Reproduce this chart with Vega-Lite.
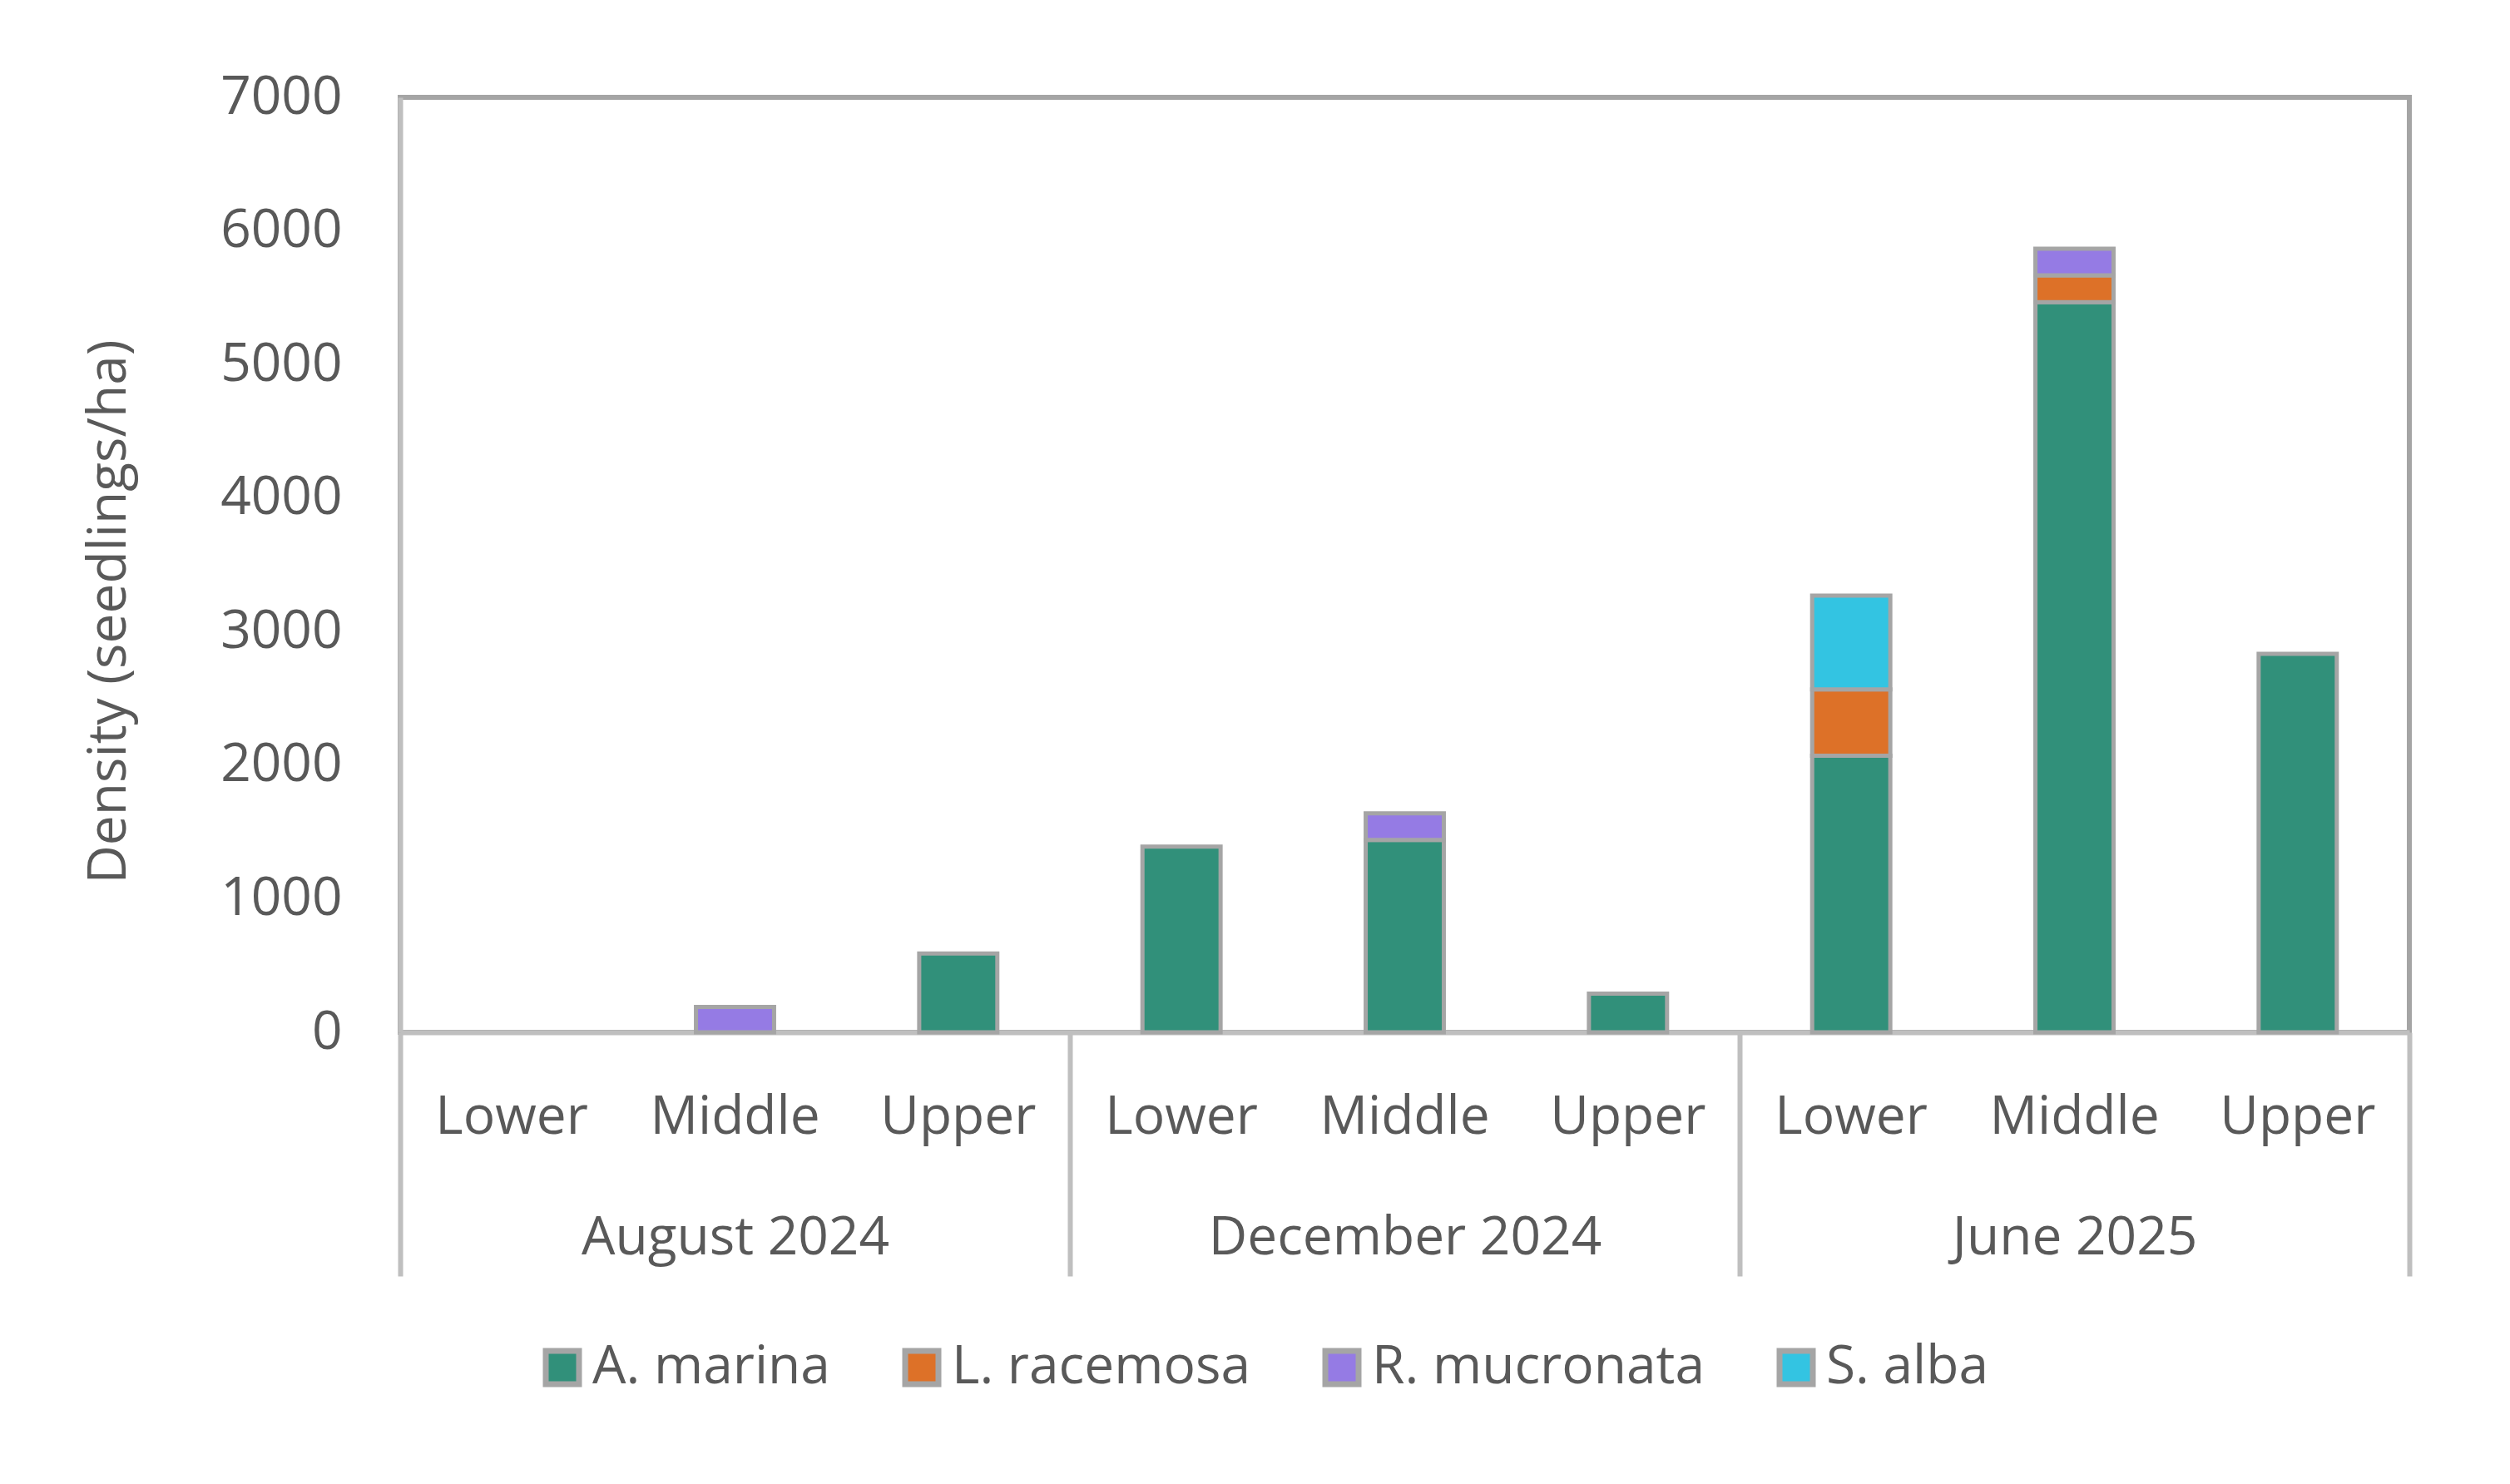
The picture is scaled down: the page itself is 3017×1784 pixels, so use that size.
{
  "$schema": "https://vega.github.io/schema/vega-lite/v6.json",
  "width": 2415,
  "height": 1124,
  "autosize": {"type": "none"},
  "padding": {"left": 481, "top": 117, "right": 121, "bottom": 543},
  "background": "white",
  "config": {
    "font": "Open Sans",
    "view": {"stroke": "#A5A5A5", "strokeWidth": 6},
    "axis": {
      "labelColor": "#595959",
      "titleColor": "#595959",
      "labelFont": "Open Sans",
      "titleFont": "Open Sans",
      "labelFontSize": 64,
      "titleFontSize": 64,
      "titleFontWeight": "normal",
      "labelLimit": 0,
      "grid": false,
      "domainColor": "#BFBFBF",
      "domainWidth": 6,
      "ticks": false
    },
    "legend": {
      "labelColor": "#595959",
      "labelFont": "Open Sans",
      "labelFontSize": 64,
      "labelLimit": 0,
      "padding": 0
    }
  },
  "data": {
    "values": [
      {"period": "August 2024", "zone": "Middle", "cell": "August 2024|Middle", "species": "R. mucronata", "density": 190},
      {"period": "August 2024", "zone": "Upper", "cell": "August 2024|Upper", "species": "A. marina", "density": 590},
      {"period": "December 2024", "zone": "Lower", "cell": "December 2024|Lower", "species": "A. marina", "density": 1390},
      {"period": "December 2024", "zone": "Middle", "cell": "December 2024|Middle", "species": "A. marina", "density": 1440},
      {"period": "December 2024", "zone": "Middle", "cell": "December 2024|Middle", "species": "R. mucronata", "density": 200},
      {"period": "December 2024", "zone": "Upper", "cell": "December 2024|Upper", "species": "A. marina", "density": 290},
      {"period": "June 2025", "zone": "Lower", "cell": "June 2025|Lower", "species": "A. marina", "density": 2070},
      {"period": "June 2025", "zone": "Lower", "cell": "June 2025|Lower", "species": "L. racemosa", "density": 497},
      {"period": "June 2025", "zone": "Lower", "cell": "June 2025|Lower", "species": "S. alba", "density": 703},
      {"period": "June 2025", "zone": "Middle", "cell": "June 2025|Middle", "species": "A. marina", "density": 5467},
      {"period": "June 2025", "zone": "Middle", "cell": "June 2025|Middle", "species": "L. racemosa", "density": 200},
      {"period": "June 2025", "zone": "Middle", "cell": "June 2025|Middle", "species": "R. mucronata", "density": 200},
      {"period": "June 2025", "zone": "Upper", "cell": "June 2025|Upper", "species": "A. marina", "density": 2833}
    ]
  },
  "layer": [
    {
      "mark": {"type": "bar", "width": {"band": 0.35}, "stroke": "#A5A5A5", "strokeWidth": 5},
      "encoding": {
        "x": {
          "field": "cell",
          "type": "nominal",
          "scale": {
            "domain": ["August 2024|Lower", "August 2024|Middle", "August 2024|Upper", "December 2024|Lower", "December 2024|Middle", "December 2024|Upper", "June 2025|Lower", "June 2025|Middle", "June 2025|Upper"],
            "paddingInner": 0,
            "paddingOuter": 0
          },
          "axis": {
            "orient": "bottom",
            "title": null,
            "labelExpr": "split(datum.label, '|')[1]",
            "labelAngle": 0,
            "labelPadding": 70
          }
        },
        "y": {
          "field": "density",
          "type": "quantitative",
          "stack": "zero",
          "scale": {"domain": [0, 7000], "nice": false},
          "axis": {
            "values": [0, 1000, 2000, 3000, 4000, 5000, 6000, 7000],
            "format": "d",
            "labelPadding": 70,
            "title": "Density (seedlings/ha)",
            "titleX": -331,
            "titleY": 618,
            "titleAngle": 270,
            "titleAlign": "center",
            "titleBaseline": "alphabetic"
          }
        },
        "order": {"field": "species", "sort": "ascending"},
        "color": {
          "field": "species",
          "type": "nominal",
          "scale": {
            "domain": ["A. marina", "L. racemosa", "R. mucronata", "S. alba"],
            "range": ["#31907A", "#DD7128", "#957BE4", "#33C4E2"]
          },
          "legend": {
            "title": null,
            "orient": "none",
            "direction": "horizontal",
            "legendX": 163,
            "legendY": 1495,
            "symbolType": "square",
            "symbolSize": 1600,
            "symbolStrokeColor": "#A5A5A5",
            "symbolStrokeWidth": 7,
            "symbolOpacity": 1,
            "labelOffset": 4,
            "columnPadding": 76
          }
        }
      }
    },
    {
      "mark": {"type": "rule", "strokeOpacity": 0},
      "encoding": {
        "x": {
          "field": "period",
          "type": "nominal",
          "scale": {
            "domain": ["August 2024", "December 2024", "June 2025"],
            "paddingInner": 0,
            "paddingOuter": 0
          },
          "axis": {
            "orient": "bottom",
            "title": null,
            "labelAngle": 0,
            "ticks": true,
            "tickBand": "extent",
            "tickSize": 293,
            "tickColor": "#BFBFBF",
            "tickWidth": 6,
            "domain": false,
            "labelPadding": -78
          }
        }
      }
    }
  ],
  "resolve": {"scale": {"x": "independent"}, "axis": {"x": "independent"}}
}
